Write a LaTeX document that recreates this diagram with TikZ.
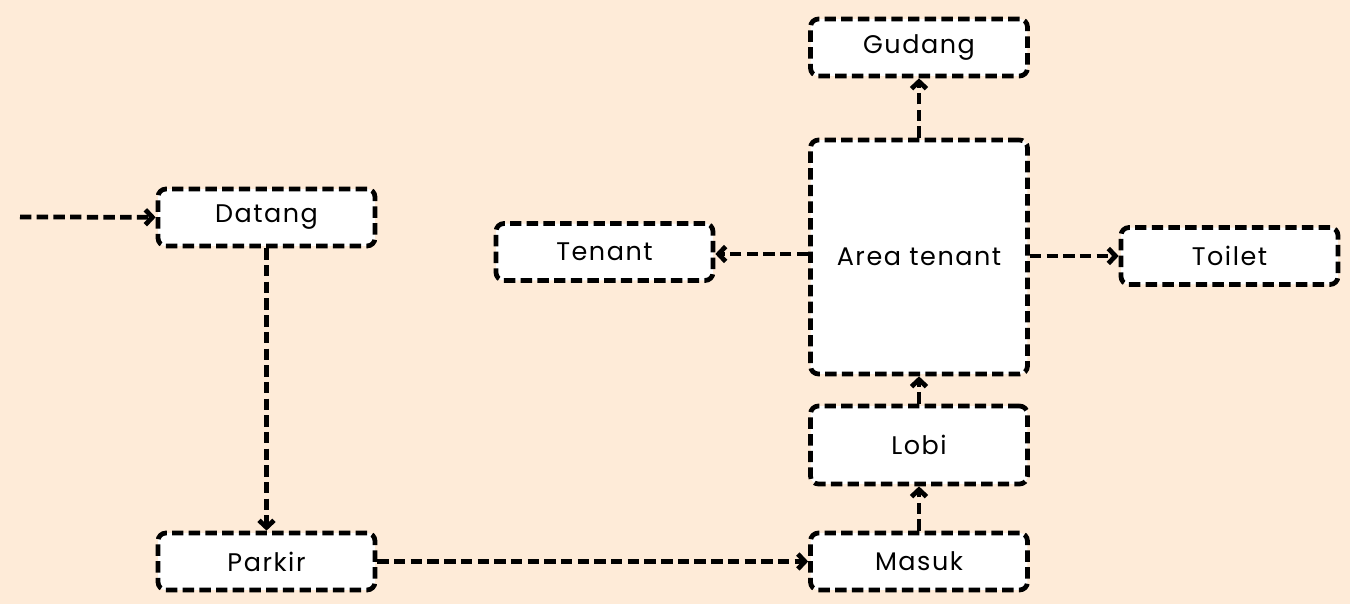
\documentclass[tikz,border=0pt]{standalone}
\usepackage{fontspec}
\setmainfont{Poppins}[LetterSpace=6]
\usetikzlibrary{arrows.meta}
\definecolor{peach}{HTML}{FEEBD8}
\tikzset{
  box/.style={draw, fill=white, line width=2.7pt, dash pattern=on 6.5pt off 3pt,
    rounded corners=4.5pt, minimum width=4.34cm, minimum height=1.14cm,
    inner sep=0pt, font=\fontsize{14.5}{17}\selectfont},
  flow/.style={line width=2.7pt, dash pattern=on 6.5pt off 3pt,
    -{Straight Barb[length=4pt,width=8.5pt]}}
}

\begin{document}
\begin{tikzpicture}[x=0.02cm, y=-0.02cm]
                \fill[peach] (0,0) rectangle (1350,604);
                \useasboundingbox (0,0) rectangle (1350,604);
                % left column
                \coordinate (in) at (20,217);
                \node[box] (datang) at (266.5,217.5) {Datang};
                \node[box] (parkir) at (266.5,561.5) {Parkir};
                % right column
                \node[box] (masuk)  at (919,561.5) {Masuk};
                \node[box, minimum height=1.56cm] (lobi) at (919,445) {Lobi};
                \node[box, minimum height=4.68cm] (area) at (919,257) {Area tenant};
                \node[box] (gudang) at (919,47.5) {Gudang};
                \node[box] (tenant) at (604.5,252) {Tenant};
                \node[box] (toilet) at (1229.5,256) {Toilet};
                % connectors
                \draw[flow] (in) -- (datang);
                \draw[flow] (datang) -- (parkir);
                \draw[flow] (parkir) -- (masuk);
                \draw[flow] (masuk) -- (lobi);
                \draw[flow] (lobi) -- (area);
                \draw[flow] (area) -- (gudang);
                \draw[flow] (area.west |- 0,254) -- (tenant.east |- 0,254);
                \draw[flow] (area.east |- 0,256) -- (toilet);
              \end{tikzpicture}
\end{document}
